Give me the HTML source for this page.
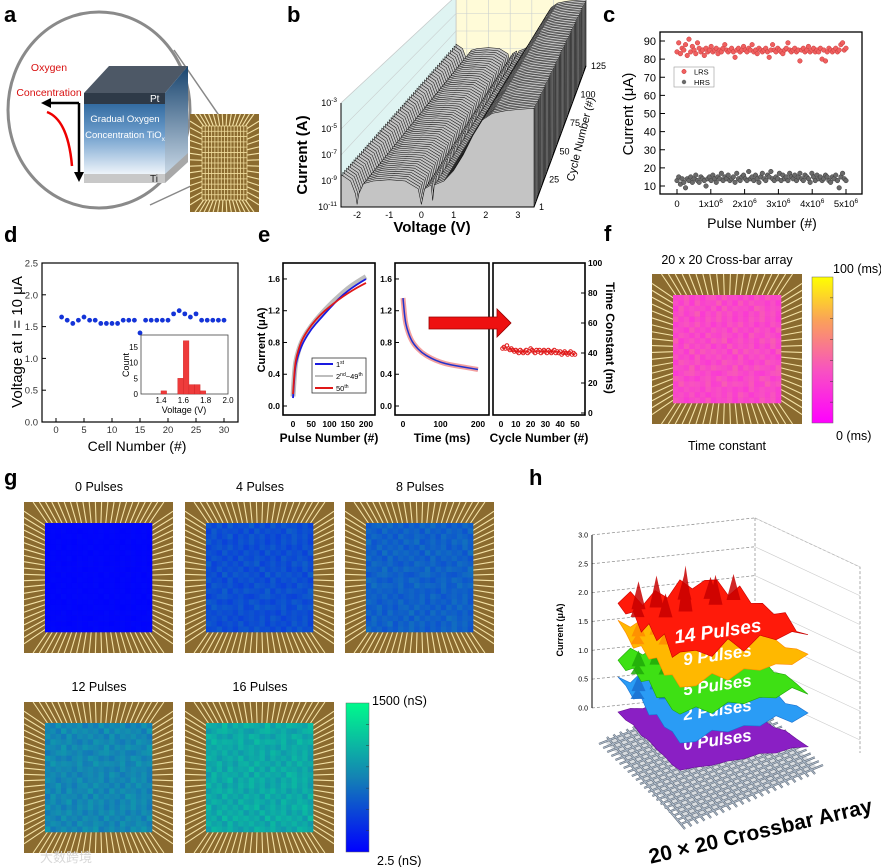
<!DOCTYPE html>
<html><head><meta charset="utf-8"><style>
html,body{margin:0;padding:0;background:#fff;}
svg{display:block;font-family:"Liberation Sans","Noto Sans CJK SC",sans-serif;}
</style></head><body>
<svg id="fig" width="881" height="867" viewBox="0 0 881 867" xmlns="http://www.w3.org/2000/svg">
<rect x="0" y="0" width="881" height="867" fill="#fff"/>
<g font-weight="bold" font-size="22" fill="#000">
<text x="4" y="22">a</text>
<text x="287" y="22">b</text>
<text x="603" y="22">c</text>
<text x="4" y="242">d</text>
<text x="258" y="242">e</text>
<text x="604" y="241">f</text>
<text x="4" y="485">g</text>
<text x="529" y="485">h</text>
</g>
</svg>
<script>
const NS="http://www.w3.org/2000/svg";
const svg=document.getElementById('fig');
function mk(tag,attrs,parent){const e=document.createElementNS(NS,tag);for(const k in attrs)e.setAttribute(k,attrs[k]);(parent||svg).appendChild(e);return e;}
function txt(s,attrs,parent){const e=mk('text',attrs,parent);e.textContent=s;return e;}
function lerp(a,b,t){return a+(b-a)*t;}
function cmap(stops,t){t=Math.max(0,Math.min(1,t));for(let i=1;i<stops.length;i++){if(t<=stops[i][0]){const a=stops[i-1],b=stops[i];const u=(t-a[0])/(b[0]-a[0]);return 'rgb('+[1,2,3].map(k=>Math.round(lerp(a[k],b[k],u))).join(',')+')';}}const l=stops[stops.length-1];return 'rgb('+l[1]+','+l[2]+','+l[3]+')';}

// ===== DATA =====
const lrsValues=[84,89,83,86,85,88,82,91,84,87,85,83,89,86,84,85,82,86,84,85,87,84,85,86,83,85,84,86,88,85,84,85,86,84,81,85,86,84,85,87,85,84,86,85,88,84,85,83,86,85,84,85,86,84,81,85,88,85,84,86,85,84,83,85,86,89,85,84,85,86,84,85,79,85,86,84,85,87,84,85,86,84,85,84,86,80,85,79,84,86,85,84,85,86,84,85,88,89,85,86];
const hrsValues=[13,15,11,14,12,9,14,13,15,12,14,16,13,12,15,14,13,10,14,15,13,16,14,12,15,14,17,13,15,14,16,13,14,15,12,17,14,13,15,16,14,13,18,14,15,13,16,14,12,15,17,14,13,16,15,18,14,13,15,14,17,13,16,14,15,13,17,15,14,16,13,15,17,14,13,16,15,14,12,17,15,13,16,14,15,13,14,16,15,13,12,15,14,16,13,9,15,17,14,13];
const cYTicks=[10,20,30,40,50,60,70,80,90];
const cXTicks=[0,1,2,3,4,5];
const dCells=[1,2,3,4,5,6,7,8,9,10,11,12,13,14,15,16,17,18,19,20,21,22,23,24,25,26,27,28,29,30];
const dVoltage=[1.65,1.6,1.55,1.6,1.65,1.6,1.6,1.55,1.55,1.55,1.55,1.6,1.6,1.6,1.4,1.6,1.6,1.6,1.6,1.6,1.7,1.75,1.7,1.65,1.7,1.6,1.6,1.6,1.6,1.6];
const dYTicks=[0,0.5,1.0,1.5,2.0,2.5];
const dXTicks=[0,5,10,15,20,25,30];
const histBins=[1.4,1.45,1.5,1.55,1.6,1.65,1.7,1.75];
const histCounts=[1,0,0,5,17,3,3,1];
const ePulse=[0,5,10,20,30,50,75,100,125,150,175,200];
const eFirst=[0.1,0.45,0.58,0.72,0.82,0.97,1.1,1.23,1.35,1.45,1.53,1.6];
const eMid=[0.12,0.48,0.62,0.77,0.87,1.01,1.15,1.27,1.38,1.48,1.56,1.63];
const eLast=[0.15,0.5,0.63,0.78,0.88,1.02,1.15,1.25,1.34,1.42,1.49,1.55];
const eTime=[0,5,10,20,30,50,75,100,125,150,175,200];
const eDecay=[1.36,1.1,0.98,0.85,0.77,0.67,0.6,0.55,0.52,0.5,0.48,0.46];
const eCycleTau=[43,44,43,45,43,42,43,42,41,42,41,40,42,41,40,41,42,40,41,43,42,41,40,42,41,42,40,41,42,41,40,42,41,40,41,42,40,41,40,41,39,40,41,40,39,40,41,39,40,39];
const eYTicks=[0,0.4,0.8,1.2,1.6];
const eRTicks=[0,20,40,60,80,100];
const bVoltage=[-2.5,-2.2,-2.05,-2,-1.95,-1.8,-1.5,-1,-0.5,-0.1,0,0.1,0.3,0.35,0.4,0.7,1,1.3,1.6,1.9,2.2,2.6,3,3.5];
const bLogI=[-8.5,-9,-10,-10.8,-10,-9.2,-9,-8.9,-9,-9.6,-10.8,-9.6,-9.3,-10.5,-9.3,-9,-8.2,-7,-5.5,-4.3,-3.8,-3.6,-3.5,-3.4];
const bXTicks=[-2,-1,0,1,2,3];
const bYTicks=[-3,-5,-7,-9,-11];
const bCTicks=[1,25,50,75,100,125];
const gTitles=['0 Pulses','4 Pulses','8 Pulses','12 Pulses','16 Pulses'];
const gMeans=[0.02,0.3,0.37,0.52,0.66];
const gSpread=[0.01,0.06,0.06,0.07,0.08];
const fMean=0.32, fSpread=0.08;
const cellNoise=["53645274635241736452","46372514637285146372","75146382547163528471","34825167384526173845","62718354926183745261","18364527183645297364","47259163847251638472","83615274836152748361","25748361527483615274","64183527461835274618","37526184375261843752","91473628591473628594","52836471528364715283","46193857461938574619","73518264735182647351","28647315286473152864","65392748653927486539","14785362147853621478","86241573862415738624","39576482395764823957"];
const hLayerNames=['0 Pulses','2 Pulses','5 Pulses','9 Pulses','14 Pulses'];
const hLayerCurrent=[0.0,0.52,0.95,1.47,1.94];
const hYTicks=[0.0,0.5,1.0,1.5,2.0,2.5,3.0];

// ===== PANEL A =====
const pa=mk('g',{});


let e;
e=mk('line',{x1:174,y1:50,x2:249,y2:159,stroke:'#888','stroke-width':1.5},pa);


e=mk('line',{x1:150,y1:205,x2:249,y2:159,stroke:'#888','stroke-width':1.5},pa);


e=mk('ellipse',{cx:99,cy:110,rx:91,ry:98,fill:'#fff',stroke:'#8a8a8a','stroke-width':3},pa);


const defs=mk('defs',{});
const lg=mk('linearGradient',{id:'cubeGrad',x1:0,y1:0,x2:0,y2:1},defs);
mk('stop',{offset:'0','stop-color':'#1f5a92'},lg);mk('stop',{offset:'0.5','stop-color':'#6b9ccb'},lg);mk('stop',{offset:'1','stop-color':'#eef4fa'},lg);
const lg2=mk('linearGradient',{id:'sideGrad',x1:0,y1:0,x2:0,y2:1},defs);
mk('stop',{offset:'0','stop-color':'#18446e'},lg2);mk('stop',{offset:'1','stop-color':'#d6e3ef'},lg2);
e=mk('polygon',{points:'84,93 109,66 188,66 165,93',fill:'#4d5866'},pa);


e=mk('polygon',{points:'165,93 188,66 188,162 165,183',fill:'url(#sideGrad)'},pa);


e=mk('rect',{x:84,y:93,width:81,height:81,fill:'url(#cubeGrad)'},pa);


e=mk('rect',{x:84,y:93,width:81,height:11,fill:'#2e3a48'},pa);


e=mk('rect',{x:84,y:174,width:81,height:9,fill:'#c8c8c8'},pa);


e=mk('polygon',{points:'165,174 188,153 188,162 165,183',fill:'#a8a8a8'},pa);


e=txt('Pt',{x:150,y:102,fill:'#fff','font-size':10},pa);


e=txt('Gradual Oxygen',{x:125,y:122,fill:'#fff','font-size':9.5,'text-anchor':'middle'},pa);


e=mk('text',{x:125,y:138,fill:'#fff','font-size':9.5,'text-anchor':'middle'},pa);
e.innerHTML='Concentration TiO<tspan font-size="6.5" dy="3">x</tspan>';


e=txt('Ti',{x:150,y:182,fill:'#222','font-size':10},pa);


e=txt('Oxygen',{x:49,y:71,fill:'#d81010','font-size':10.5,'text-anchor':'middle'},pa);


e=txt('Concentration',{x:49,y:96,fill:'#d81010','font-size':10.5,'text-anchor':'middle'},pa);


e=mk('path',{d:'M79,103 L79,174 M49,103 L79,103',stroke:'#000','stroke-width':2.5,fill:'none'},pa);


e=mk('polygon',{points:'74,172 84,172 79,182',fill:'#000'},pa);


e=mk('polygon',{points:'51,98 51,108 41,103',fill:'#000'},pa);


e=mk('path',{d:'M47,112 Q68,120 72,166',stroke:'#e00',fill:'none','stroke-width':2.5},pa);



function chip(parent,x,y,w,h,ix,iy,iw,ih,n,gridInner){
  const g=mk('g',{},parent);
  let r=mk('rect',{x:x,y:y,width:w,height:h,fill:'#8b6b2f'},g);
  
  
  let d='';
  for(let k=0;k<n;k++){
    const t=(k+0.5)/n, s=0.04+t*0.92;
    d+=`M${ix+t*iw},${iy} L${x+s*w},${y} `;
    d+=`M${ix+t*iw},${iy+ih} L${x+s*w},${y+h} `;
    d+=`M${ix},${iy+t*ih} L${x},${y+s*h} `;
    d+=`M${ix+iw},${iy+t*ih} L${x+w},${y+s*h} `;
  }
  r=mk('path',{d:d,stroke:'#f4e2a6','stroke-width':1.1,fill:'none'},g);
  
  
  if(gridInner){
    let gd='';
    for(let k=0;k<=n;k++){const t=k/n;gd+=`M${ix+t*iw},${iy} L${ix+t*iw},${iy+ih} M${ix},${iy+t*ih} L${ix+iw},${iy+t*ih} `;}
    r=mk('path',{d:gd,stroke:'#f0dc9c','stroke-width':0.8,fill:'none'},g);
    
    
  }
  return g;
}
e=chip(pa,190,114,69,98,202,126,45,74,14,true);



// ===== PANEL B =====
const pb=mk('g',{'font-size':9});


const FL=[341,207],FR=[534,207],BL=[456,66],BR=[586,66];
function bproj(V,L,c){const u=(V+2.5)/6,w=(c-1)/124;const fx=lerp(FL[0],FR[0],u),bx=lerp(BL[0],BR[0],u);const x=lerp(fx,bx,w);const y0=lerp(207,66,w);const sc=lerp(104,70,w);return [x,y0-(L+11)/8*sc];}
e=mk('polygon',{points:'456,-4 586,-4 586,66 456,66',fill:'#fffbd8',stroke:'#bbb','stroke-width':0.6},pb);


e=mk('polygon',{points:'341,103 456,-4 456,66 341,207',fill:'#dff4f2',stroke:'#bbb','stroke-width':0.6},pb);


e=mk('polygon',{points:'341,207 534,207 586,66 456,66',fill:'#ececec',stroke:'#bbb','stroke-width':0.6},pb);


let gridD='';
bXTicks.forEach(v=>{const a=bproj(v,-11,125),b=bproj(v,-3.4,125);gridD+=`M${a[0]},${a[1]} L${b[0]},${b[1]} `;const f=bproj(v,-11,1);gridD+=`M${f[0]},${f[1]} L${a[0]},${a[1]} `;});
bYTicks.forEach(L=>{const a=bproj(-2.5,L,1),b=bproj(-2.5,L,125),c2=bproj(3.5,L,125);gridD+=`M${a[0]},${a[1]} L${b[0]},${b[1]} L${c2[0]},${c2[1]} `;});
bCTicks.forEach(c=>{const a=bproj(-2.5,-11,c),b=bproj(3.5,-11,c);gridD+=`M${a[0]},${a[1]} L${b[0]},${b[1]} `;});
e=mk('path',{d:gridD,stroke:'#c9cfcf','stroke-width':0.6,fill:'none'},pb);


for(let c=125;c>=1;c-=2){
  let d='';
  const st=bproj(bVoltage[0],-11,c);d+=`M${st[0]},${st[1]} `;
  bVoltage.forEach((v,i)=>{const p=bproj(v,bLogI[i],c);d+=`L${p[0].toFixed(1)},${p[1].toFixed(1)} `;});
  const en=bproj(bVoltage[bVoltage.length-1],-11,c);d+=`L${en[0]},${en[1]} Z`;
  const cv=mk('path',{d:d,fill:'#c4c4c4',stroke:'#111','stroke-width':0.55},pb);
  
  
}
e=mk('path',{d:'M341,103 L341,207 L534,207 L586,66',stroke:'#000','stroke-width':1,fill:'none'},pb);


bXTicks.forEach(v=>{const p=bproj(v,-11,1);const t=txt(String(v),{x:p[0],y:218,'text-anchor':'middle'},pb);

});
bYTicks.forEach(L=>{const p=bproj(-2.5,L,1);const t=mk('text',{x:337,y:p[1]+3,'text-anchor':'end'},pb);t.innerHTML='10<tspan font-size="6.5" dy="-4">'+L+'</tspan>';

});
bCTicks.forEach(c=>{const p=bproj(3.5,-11,c);const t=txt(String(c),{x:p[0]+5,y:p[1]+3},pb);

});
e=txt('Current (A)',{x:0,y:0,'font-size':15,'font-weight':'bold','text-anchor':'middle',transform:'translate(307,155) rotate(-90)'},pb);


e=txt('Voltage (V)',{x:432,y:232,'font-size':15,'font-weight':'bold','text-anchor':'middle'},pb);


e=txt('Cycle Number (#)',{x:0,y:0,'font-size':11,'text-anchor':'middle',transform:'translate(584,140) rotate(-76)'},pb);



// ===== PANEL C =====
const pc=mk('g',{'font-size':10});


const cX=p=>677+p/5e6*169, cY=v=>186-(v-10)*1.8125;
e=mk('rect',{x:660,y:32,width:202,height:162,fill:'#fff',stroke:'#000','stroke-width':1.3},pc);


cYTicks.forEach(v=>{const l=mk('line',{x1:660,x2:665,y1:cY(v),y2:cY(v),stroke:'#000'},pc);


const t=txt(String(v),{x:656,y:cY(v)+4,'text-anchor':'end','font-size':11},pc);

});
cXTicks.forEach(v=>{const x=cX(v*1e6);const l=mk('line',{x1:x,x2:x,y1:194,y2:189,stroke:'#000'},pc);


const t=mk('text',{x:x,y:207,'text-anchor':'middle','font-size':9.5},pc);t.innerHTML=v===0?'0':v+'x10<tspan font-size="6.5" dy="-4">6</tspan>';

});
[[lrsValues,'#f06060','#c83a3a','lrs'],[hrsValues,'#6a6a6a','#3a3a3a','hrs']].forEach(([arr,f,s,nm])=>{
  arr.forEach((v,i)=>{const c=mk('circle',{cx:cX(i/(arr.length-1)*5e6),cy:cY(v),r:2.3,fill:f,stroke:s,'stroke-width':0.5},pc);
  
  });
});
e=mk('rect',{x:674,y:67,width:40,height:20,fill:'#fff',stroke:'#999','stroke-width':0.6},pc);


e=mk('circle',{cx:684,cy:71.5,r:2.2,fill:'#f06060',stroke:'#c83a3a','stroke-width':0.5},pc);


e=txt('LRS',{x:694,y:74.5,'font-size':7.5},pc);


e=mk('circle',{cx:684,cy:82,r:2.2,fill:'#6a6a6a'},pc);


e=txt('HRS',{x:694,y:85,'font-size':7.5},pc);


e=txt('Current  (μA)',{x:0,y:0,'font-size':15,'text-anchor':'middle',transform:'translate(633,114) rotate(-90)'},pc);


e=txt('Pulse Number (#)',{x:762,y:228,'font-size':14,'text-anchor':'middle'},pc);



// ===== PANEL D =====
const pd=mk('g',{'font-size':10});


const dX=c=>56+c*5.6, dY=v=>422-v*63.6;
e=mk('rect',{x:42,y:263,width:196,height:159,fill:'#fff',stroke:'#000','stroke-width':1.2},pd);


dYTicks.forEach(v=>{const l=mk('line',{x1:42,x2:46,y1:dY(v),y2:dY(v),stroke:'#000'},pd);


const t=txt(v.toFixed(1),{x:38,y:dY(v)+3.5,'text-anchor':'end','font-size':9.5,fill:'#333'},pd);

});
dXTicks.forEach(v=>{const l=mk('line',{x1:dX(v),x2:dX(v),y1:422,y2:418,stroke:'#000'},pd);


const t=txt(String(v),{x:dX(v),y:433,'text-anchor':'middle','font-size':9.5,fill:'#333'},pd);

});
dCells.forEach((c,i)=>{const p=mk('circle',{cx:dX(c),cy:dY(dVoltage[i]),r:2.4,fill:'#1434d8'},pd);

});
e=txt('Voltage at I = 10  μA',{x:0,y:0,'font-size':15,'text-anchor':'middle',transform:'translate(22,342) rotate(-90)'},pd);


e=txt('Cell Number (#)',{x:137,y:451,'font-size':14,'text-anchor':'middle'},pd);


const hX=v=>161+(v-1.4)*111.7, hY=c=>394-c*3.13;
e=mk('rect',{x:141,y:335,width:87,height:59,fill:'#fff',stroke:'#444','stroke-width':0.8},pd);


histBins.forEach((b,i)=>{if(!histCounts[i])return;const r=mk('rect',{x:hX(b),y:hY(histCounts[i]),width:0.05*111.7,height:histCounts[i]*3.13,fill:'#ee3b3b',stroke:'#c22','stroke-width':0.4},pd);

});
[0,5,10,15].forEach(c=>{const t=txt(String(c),{x:138,y:hY(c)+3,'text-anchor':'end','font-size':8},pd);

});
[1.4,1.6,1.8,2.0].forEach(v=>{const t=txt(v.toFixed(1),{x:hX(v),y:403,'text-anchor':'middle','font-size':8},pd);

});
e=txt('Count',{x:0,y:0,'font-size':9,'text-anchor':'middle',transform:'translate(129,365) rotate(-90)'},pd);


e=txt('Voltage (V)',{x:184,y:413,'font-size':9,'text-anchor':'middle'},pd);



// ===== PANEL E =====
const pe=mk('g',{'font-size':8.5,'font-weight':'bold'});


const eY=v=>406-v*79.4, x1=p=>293+p/200*73, x2=t=>403+t/200*75, x3=c=>501+c/50*74, yR=v=>413-v*1.5;
[[283,92,'e-potentiation-frame'],[395,94,'e-decay-frame'],[493,92,'e-tau-frame']].forEach(([x,w,n])=>{const r=mk('rect',{x:x,y:263,width:w,height:152,fill:'#fff',stroke:'#000','stroke-width':1.6},pe);

});
eYTicks.forEach(v=>{[[283,280],[395,392]].forEach(([fx,lx])=>{const l=mk('line',{x1:fx,x2:fx+4,y1:eY(v),y2:eY(v),stroke:'#000'},pe);


const t=txt(v.toFixed(1),{x:lx,y:eY(v)+3,'text-anchor':'end'},pe);

});});
eRTicks.forEach(v=>{const l=mk('line',{x1:585,x2:581,y1:yR(v),y2:yR(v),stroke:'#000'},pe);


const t=txt(String(v),{x:588,y:yR(v)+3},pe);

});
[0,50,100,150,200].forEach(v=>{const t=txt(String(v),{x:x1(v),y:427,'text-anchor':'middle'},pe);

});
[0,100,200].forEach(v=>{const t=txt(String(v),{x:x2(v),y:427,'text-anchor':'middle'},pe);

});
[0,10,20,30,40,50].forEach(v=>{const t=txt(String(v),{x:x3(v),y:427,'text-anchor':'middle'},pe);

});
function curve(xs,ys,fx){let d='';const pts=xs.map((x,i)=>[fx(x),eY(ys[i])]);d='M'+pts[0].join(',');for(let i=1;i<pts.length;i++){const p0=pts[i-1],p1=pts[i];const mx=(p0[0]+p1[0])/2;d+=` Q${p0[0]},${p0[1]} ${mx},${(p0[1]+p1[1])/2}`;}d+=' L'+pts[pts.length-1].join(',');return d;}
e=mk('path',{d:curve(ePulse,eMid,x1),stroke:'#bdbdbd','stroke-width':5,fill:'none'},pe);


e=mk('path',{d:curve(ePulse,eFirst,x1),stroke:'#1a1ae0','stroke-width':1.8,fill:'none'},pe);


e=mk('path',{d:curve(ePulse,eLast,x1),stroke:'#e01818','stroke-width':1.8,fill:'none'},pe);


e=mk('path',{d:curve(eTime,eDecay,x2),stroke:'#f3a0a0','stroke-width':5,fill:'none'},pe);


e=mk('path',{d:curve(eTime,eDecay,x2),stroke:'#2233cc','stroke-width':1.5,fill:'none'},pe);


eCycleTau.forEach((v,i)=>{const c=mk('circle',{cx:x3(i+1),cy:yR(v),r:1.8,fill:'none',stroke:'#e01818','stroke-width':1},pe);

});
e=mk('rect',{x:312,y:358,width:54,height:35,fill:'#fff',stroke:'#333','stroke-width':0.8},pe);


[['#1a1ae0',364,'1<tspan font-size="5" dy="-3">st</tspan>'],['#bdbdbd',376,'2<tspan font-size="5" dy="-3">nd</tspan><tspan dy="3">~49</tspan><tspan font-size="5" dy="-3">th</tspan>'],['#e01818',388,'50<tspan font-size="5" dy="-3">th</tspan>']].forEach(([c,y,s])=>{
  const l=mk('line',{x1:315,x2:333,y1:y,y2:y,stroke:c,'stroke-width':2},pe);
  
  
  const t=mk('text',{x:336,y:y+3,'font-size':7.5,'font-weight':'normal'},pe);t.innerHTML=s;
  
  
});
e=mk('polygon',{points:'429,317 497,317 497,309 511,323 497,337 497,329 429,329',fill:'#ee1010',stroke:'#900','stroke-width':0.8},pe);


e=txt('Current (μA)',{x:0,y:0,'font-size':11,'text-anchor':'middle',transform:'translate(265,340) rotate(-90)'},pe);


e=txt('Time Constant (ms)',{x:0,y:0,'font-size':12,'text-anchor':'middle',transform:'translate(606,338) rotate(90)'},pe);


e=txt('Pulse Number (#)',{x:329,y:442,'font-size':12,'text-anchor':'middle'},pe);


e=txt('Time (ms)',{x:442,y:442,'font-size':12,'text-anchor':'middle'},pe);


e=txt('Cycle Number (#)',{x:539,y:442,'font-size':12,'text-anchor':'middle'},pe);



// ===== HEATMAPS =====
const gStops=[[0,0,0,255],[0.5,20,130,180],[1,0,250,140]];
const fStops=[[0,255,0,255],[0.35,248,80,195],[0.7,250,160,90],[1,255,255,0]];
function heat(parent,ix,iy,iw,ih,mean,spread,stops,rowOff){
  const cw=iw/20,ch=ih/20;
  for(let i=0;i<20;i++)for(let j=0;j<20;j++){
    const dgt=+cellNoise[(i+rowOff)%20][j];
    const v=mean+(dgt-4.5)/4.5*spread;
    const r=mk('rect',{x:(ix+j*cw).toFixed(2),y:(iy+i*ch).toFixed(2),width:(cw+0.3).toFixed(2),height:(ch+0.3).toFixed(2),fill:cmap(stops,v)},parent);
    
    
  }
}
function colorbar(parent,x,y,w,h,stops,nm){
  const gid='cb'+nm;const gr=mk('linearGradient',{id:gid,x1:0,y1:1,x2:0,y2:0},defs);
  stops.forEach(s=>mk('stop',{offset:s[0],'stop-color':`rgb(${s[1]},${s[2]},${s[3]})`},gr));
  const r=mk('rect',{x:x,y:y,width:w,height:h,fill:`url(#${gid})`,stroke:'#666','stroke-width':0.5},parent);
  
  
  for(let k=1;k<7;k++){const l=mk('line',{x1:x+w-3,x2:x+w,y1:y+h*k/7,y2:y+h*k/7,stroke:'#333','stroke-width':0.5},parent);
  
  }
}
const pf=mk('g',{'font-size':12.5});


e=chip(pf,652,274,150,150,673,295,108,108,20,false);


heat(pf,673,295,108,108,fMean,fSpread,fStops,3);
colorbar(pf,812,277,21,146,fStops,'f');
e=txt('20 x 20 Cross-bar array',{x:727,y:264,'text-anchor':'middle'},pf);


e=txt('Time constant',{x:727,y:450,'text-anchor':'middle'},pf);


e=txt('100 (ms)',{x:833,y:273},pf);


e=txt('0 (ms)',{x:836,y:440},pf);



const pg=mk('g',{'font-size':12.5});


const gPos=[[24,502],[185,502],[345,502],[24,702],[185,702]];
gTitles.forEach((tl,k)=>{
  const [x,y]=gPos[k];
  const ch=chip(pg,x,y,149,151,x+21,y+21,107,109,22,false);
  
  
  heat(pg,x+21,y+21,107,109,gMeans[k],gSpread[k],gStops,k*4);
  const t=txt(tl,{x:x+75,y:y-11,'text-anchor':'middle'},pg);
  
  
});
colorbar(pg,346,703,23,149,gStops,'g');
e=txt('1500 (nS)',{x:372,y:705},pg);


e=txt('2.5 (nS)',{x:377,y:865},pg);


e=txt('大数跨境',{x:40,y:862,'font-size':13,fill:'#d8d8d8','font-family':'"Noto Sans CJK SC",sans-serif'},pg);



// ===== PANEL H =====
const ph=mk('g',{'font-size':7});


const hY0=708,hS=57.7;
let hd='';
hYTicks.forEach(v=>{const y=hY0-v*hS;hd+=`M592,${y} L755,${y-17} `;});
hd+='M755,518 L755,700 M755,518 L860,567 L860,753';
e=mk('path',{d:hd,stroke:'#888','stroke-width':0.7,'stroke-dasharray':'3,2',fill:'none'},ph);


let rw='';
hYTicks.forEach(v=>{const y=hY0-v*hS;rw+=`M755,${y-17} L860,${y+32} `;});
e=mk('path',{d:rw,stroke:'#ccc','stroke-width':0.6,fill:'none'},ph);


e=mk('line',{x1:592,y1:535,x2:592,y2:708,stroke:'#000','stroke-width':1},ph);


hYTicks.forEach(v=>{const y=hY0-v*hS;const t=txt(v.toFixed(1),{x:588,y:y+2.5,'text-anchor':'end'},ph);

});
e=txt('Current (μA)',{x:0,y:0,'font-size':9,'font-weight':'bold','text-anchor':'middle',transform:'translate(563,630) rotate(-90)'},ph);


const CL=[605,742],CF=[687,822],CR=[817,767],CB=[735,690];
e=mk('polygon',{points:[CL,CF,CR,CB].map(p=>p.join(',')).join(' '),fill:'#d8dce0'},ph);


let cd='';
for(let k=0;k<=20;k++){const t=k/20;
  const a=[lerp(CL[0],CF[0],t),lerp(CL[1],CF[1],t)],b=[lerp(CB[0],CR[0],t),lerp(CB[1],CR[1],t)];cd+=`M${a[0]-6},${a[1]+2} L${b[0]+6},${b[1]-2} `;
  const c=[lerp(CL[0],CB[0],t),lerp(CL[1],CB[1],t)],d=[lerp(CF[0],CR[0],t),lerp(CF[1],CR[1],t)];cd+=`M${c[0]+2},${c[1]-5} L${d[0]-2},${d[1]+7} `;}
e=mk('path',{d:cd,stroke:'#6a7480','stroke-width':2.2,fill:'none'},ph);


e=mk('path',{d:cd,stroke:'#b8c6d6','stroke-width':0.8,fill:'none'},ph);


const baseL=[618,712],baseB=[717,695],baseR=[808,745],baseF=[680,772];
const jag=[0,-5,3,-7,2,-4,6,-2,4,-6,1,-3];
const hFills=['#8a1fc4','#2a9cf5','#3ee014','#ffb800','#ff1a0a'];
const hDark=['#6a1098','#1a70d0','#20a808','#ff8a00','#c80000'];
hLayerCurrent.forEach((cur,k)=>{
  const dy=-cur*hS;const corners=[baseL,baseB,baseR,baseF].map(p=>[p[0],p[1]+dy]);
  const amp=k===0?0.3:(k===4?1.6:1);
  let pts=[];
  for(let s=0;s<4;s++){const a=corners[s],b=corners[(s+1)%4];for(let m=0;m<8;m++){const t=m/8;pts.push([lerp(a[0],b[0],t),lerp(a[1],b[1],t)+jag[(m+s*3+k)%12]*amp]);}}
  const poly=mk('polygon',{points:pts.map(p=>p[0].toFixed(1)+','+p[1].toFixed(1)).join(' '),fill:hFills[k],stroke:hDark[k],'stroke-width':0.6},ph);
  
  
  if(k>0){
    let sp='';
    for(let m=0;m<9;m++){const u=(m+0.5)/9;const px=lerp(corners[0][0],corners[1][0],u)+14+jag[m]*2,py=lerp(corners[0][1],corners[1][1],u)+10+jag[(m+4)%12];const hgt=k===4?(m===4?40:12+Math.abs(jag[m])*2):5+Math.abs(jag[m]);sp+=`M${px-7},${py+6} L${px},${py-hgt} L${px+7},${py+6} Z `;}
    const s=mk('path',{d:sp,fill:hDark[k],opacity:0.85},ph);
    
    
  }
  const cx=lerp(corners[0][0],corners[2][0],0.5)+4,cy=lerp(corners[1][1],corners[3][1],0.5)+4;
  const t=txt(hLayerNames[k],{x:cx,y:cy+(k===4?12:8),'font-size':k===4?19:17,'font-weight':'bold','font-style':'italic',fill:'#fff','text-anchor':'middle',transform:`rotate(-8 ${cx} ${cy})`},ph);
  
  
});
e=txt('20 × 20 Crossbar Array',{x:0,y:0,'font-size':21,'font-weight':'bold','text-anchor':'middle',transform:'translate(762,838) rotate(-13)'},ph);


</script>
</body></html>
